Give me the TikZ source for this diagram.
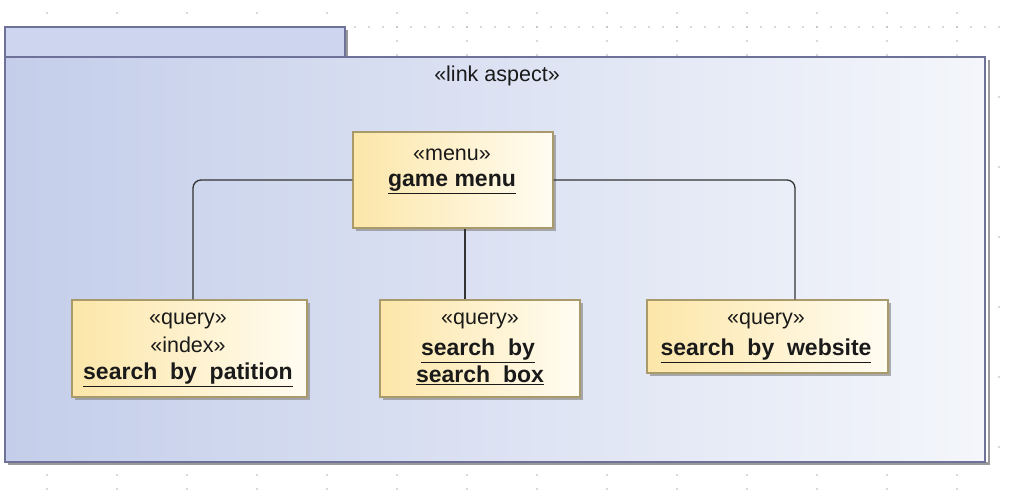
\documentclass[tikz,border=0pt]{standalone}
\usepackage{fontspec}
\setmainfont{Liberation Sans}
\usetikzlibrary{shadows}
\definecolor{pkgborder}{HTML}{6E7299}
\definecolor{pkgleft}{HTML}{C4CEEA}
\definecolor{pkgright}{HTML}{F4F6FB}
\definecolor{tabfill}{HTML}{CDD6EE}
\definecolor{objleft}{HTML}{FCE6A8}
\definecolor{objright}{HTML}{FFFCF2}
\definecolor{objborder}{HTML}{A89A6A}
\definecolor{txt}{HTML}{1A1A1A}
\definecolor{griddot}{HTML}{B4B4B4}
\tikzset{
  objbox/.style={draw=objborder, line width=1.2pt, left color=objleft, right color=objright,
    drop shadow={shadow xshift=3pt, shadow yshift=-3pt, fill=black!45, opacity=0.7}},
  stereo/.style={font=\fontsize{21.5}{24}\selectfont, text=txt, inner sep=0pt},
  oname/.style={font=\fontsize{23}{26}\selectfont\bfseries, text=txt, inner sep=0pt},
  link/.style={draw=black!80, line width=1.3pt, rounded corners=8pt},
}
\begin{document}
\begin{tikzpicture}[x=1pt,y=-1pt]
\useasboundingbox (0,0) rectangle (1012,502);
% background grid dots
\foreach \gx in {47,117,...,1027}{
  \foreach \gy in {-1,13,...,503}{
    \fill[griddot] (\gx,\gy) circle (0.8pt);
  }
}
\foreach \gy in {27,97,...,517}{
  \foreach \gx in {5,19,...,1013}{
    \fill[griddot] (\gx,\gy) circle (0.8pt);
  }
}
% package shadow
\fill[black!40] (988,60) rectangle (990,465);
\fill[black!40] (8,462) rectangle (990,465);
\fill[black!40] (345,30) rectangle (348,57);
% package tab and body
\draw[pkgborder, line width=1.5pt, fill=tabfill] (5,27) rectangle (345,57);
\draw[pkgborder, line width=1.5pt, left color=pkgleft, right color=pkgright] (5,57) rectangle (985,462);
\node[stereo] (pkglabel) at (497,76) {«link aspect»};
% objects
\node[objbox, minimum width=200pt, minimum height=96pt, inner sep=0pt] (gm) at (453,180) {};
\node[stereo] (gms) at (452,155) {«menu»};
\node[oname] (gmn) at (452,184) {\underline{game menu}};

\node[objbox, minimum width=235pt, minimum height=97pt, inner sep=0pt] (sp) at (189.5,348.5) {};
\node[stereo] (sps1) at (188,321) {«query»};
\node[stereo] (sps2) at (188,345) {«index»};
\node[oname] (spn) at (188,375) {\underline{search\ \ by\ \ patition}};

\node[objbox, minimum width=200pt, minimum height=97pt, inner sep=0pt] (sb) at (480,348.5) {};
\node[stereo] (sbs) at (480,321) {«query»};
\node[oname] (sbn1) at (478,351) {\underline{search\ \ by}};
\node[oname] (sbn2) at (480,375) {\underline{search\ \ box}};

\node[objbox, minimum width=241pt, minimum height=73pt, inner sep=0pt] (sw) at (767.5,336.5) {};
\node[stereo] (sws) at (766,321) {«query»};
\node[oname] (swn) at (766,351) {\underline{search\ \ by\ \ website}};
% connectors
\draw[link] (gm.west) -| ([xshift=3.5pt]sp.north);
\draw[link] ([xshift=12pt]gm.south) -- ([xshift=-15pt]sb.north);
\draw[link] (gm.east) -| ([xshift=27.5pt]sw.north);
\end{tikzpicture}
\end{document}
